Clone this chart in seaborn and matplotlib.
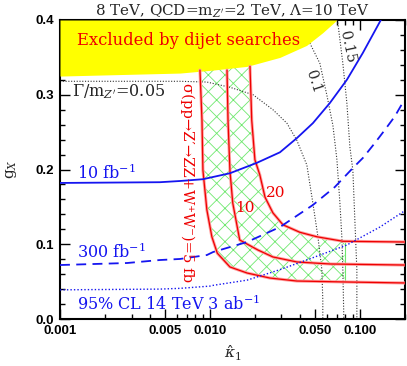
import matplotlib
matplotlib.use("Agg")
import matplotlib.pyplot as plt
import numpy as np
import seaborn as sns

# ---- data ----
# lower edge of the dijet-excluded (yellow) region
dijet_x = [0.001, 0.00631, 0.0105, 0.0177, 0.0293, 0.0441, 0.0565, 0.0703, 0.2]
dijet_y = [0.325, 0.329, 0.333, 0.338, 0.350, 0.366, 0.383, 0.40, 0.40]

# Gamma/m_Z' contours (dotted black)
w05_x = [0.001, 0.00631, 0.00954, 0.0136, 0.0194, 0.0263, 0.0326, 0.038, 0.0443,
         0.0486, 0.0525, 0.0558, 0.0566, 0.0566]
w05_y = [0.318, 0.318, 0.317, 0.310, 0.300, 0.280, 0.262, 0.239, 0.206,
         0.155, 0.110, 0.0656, 0.025, 0.0]
w10_x = [0.040, 0.0464, 0.0541, 0.0603, 0.0661, 0.0703, 0.0736, 0.0758, 0.077, 0.0782]
w10_y = [0.40, 0.369, 0.342, 0.299, 0.259, 0.213, 0.155, 0.110, 0.0656, 0.0]
w15_x = [0.0703, 0.0713, 0.077, 0.0819, 0.0858, 0.0898, 0.0926, 0.0955, 0.0955]
w15_y = [0.40, 0.396, 0.342, 0.289, 0.230, 0.199, 0.132, 0.0656, 0.0]

# 14 TeV reach (blue)
l10_x = [0.001, 0.00464, 0.00631, 0.00898, 0.0136, 0.0206, 0.0293, 0.038, 0.0486,
         0.0631, 0.0819, 0.1047, 0.138]
l10_y = [0.182, 0.183, 0.1846, 0.187, 0.195, 0.209, 0.223, 0.242, 0.262,
         0.289, 0.320, 0.356, 0.40]
l300_x = [0.001, 0.0028, 0.00464, 0.00631, 0.00955, 0.0105, 0.0177, 0.0293, 0.0486,
          0.0681, 0.0898, 0.1047, 0.126, 0.1468, 0.171, 0.1934, 0.2]
l300_y = [0.0722, 0.0749, 0.0789, 0.0803, 0.0856, 0.0896, 0.103, 0.123, 0.1525,
          0.1766, 0.202, 0.2154, 0.2355, 0.253, 0.271, 0.2896, 0.293]
l3ab_x = [0.001, 0.00464, 0.00631, 0.010, 0.0105, 0.0177, 0.0293, 0.0486, 0.0819,
          0.136, 0.193, 0.2]
l3ab_y = [0.039, 0.040, 0.041, 0.044, 0.045, 0.052, 0.066, 0.082, 0.099,
          0.123, 0.143, 0.145]

# sigma(pp -> Z' -> ZZ + WW) contours (red)
s5_x = [0.00858, 0.00885, 0.00898, 0.00954, 0.0103, 0.0112, 0.0136, 0.0177, 0.0251,
        0.038, 0.0819, 0.2]
s5_y = [0.333, 0.266, 0.199, 0.146, 0.110, 0.088, 0.0696, 0.0615, 0.0548,
        0.0508, 0.0495, 0.0482]
s10_x = [0.013, 0.0132, 0.0136, 0.0142, 0.0158, 0.0209, 0.0263, 0.038, 0.0631, 0.2]
s10_y = [0.333, 0.266, 0.198, 0.155, 0.1057, 0.0923, 0.083, 0.0763, 0.0736, 0.0722]
s20_x = [0.0185, 0.019, 0.01995, 0.0215, 0.0233, 0.0263, 0.0307, 0.0398, 0.0517,
         0.077, 0.2]
s20_y = [0.338, 0.266, 0.213, 0.193, 0.163, 0.142, 0.126, 0.116, 0.110,
         0.104, 0.103]
band_xmax = 0.079

xticks = [0.001, 0.005, 0.010, 0.050, 0.100]
xticklabels = ["0.001", "0.005", "0.010", "0.050", "0.100"]
yticks = [0.0, 0.1, 0.2, 0.3, 0.4]

sns.set_theme(style="ticks")
plt.rcParams["font.family"] = ["DejaVu Serif"]
plt.rcParams["mathtext.fontset"] = "dejavuserif"
plt.rcParams["hatch.linewidth"] = 0.6
plt.rcParams["hatch.color"] = "#6ee86e"

fig = plt.figure(figsize=(4.07, 3.66), dpi=100)
ax = fig.add_axes([60 / 407, 47 / 366, 345 / 407, 299 / 366])
ax.set_xscale("log")
ax.set_xlim(0.001, 0.2)
ax.set_ylim(0.0, 0.4)

# green hatched band between the 5 fb and 20 fb contours
def cut(xs, ys, xmax):
    px, py = [], []
    for i in range(len(xs)):
        if xs[i] <= xmax:
            px.append(xs[i]); py.append(ys[i])
        else:
            t = (np.log(xmax) - np.log(xs[i - 1])) / (np.log(xs[i]) - np.log(xs[i - 1]))
            px.append(xmax); py.append(ys[i - 1] + t * (ys[i] - ys[i - 1]))
            break
    return px, py

b5x, b5y = cut(s5_x, s5_y, band_xmax)
b20x, b20y = cut(s20_x, s20_y, band_xmax)
ax.fill(b5x + b20x[::-1], b5y + b20y[::-1], facecolor="none", edgecolor="#6ee86e",
        hatch="xx", linewidth=0, zorder=1)
ax.plot([band_xmax, band_xmax], [b5y[-1], b20y[-1]], color="#6ee86e", lw=0.8, zorder=1)

# width contours
for wx, wy in [(w05_x, w05_y), (w10_x, w10_y), (w15_x, w15_y)]:
    sns.lineplot(x=wx, y=wy, ax=ax, sort=False, estimator=None, color="#333333",
                 linestyle=(0, (1, 1.5)), linewidth=0.8, zorder=2)

# dijet exclusion
ax.fill_between(dijet_x, dijet_y, 0.4, color="#ffff00", linewidth=0, zorder=3)

# cross-section contours
for sx, sy in [(s5_x, s5_y), (s10_x, s10_y), (s20_x, s20_y)]:
    sns.lineplot(x=sx, y=sy, ax=ax, sort=False, estimator=None, color="#ffa0a0",
                 linewidth=2.2, zorder=4)
    sns.lineplot(x=sx, y=sy, ax=ax, sort=False, estimator=None, color="#ee0000",
                 linewidth=0.9, zorder=5)

# luminosity reach
blue = "#1515f0"
sns.lineplot(x=l10_x, y=l10_y, ax=ax, sort=False, estimator=None, color=blue,
             linewidth=1.3, zorder=6)
sns.lineplot(x=l300_x, y=l300_y, ax=ax, sort=False, estimator=None, color=blue,
             linewidth=1.3, linestyle=(0, (5.5, 3.5)), zorder=6)
sns.lineplot(x=l3ab_x, y=l3ab_y, ax=ax, sort=False, estimator=None, color=blue,
             linewidth=1.0, linestyle=(0, (1, 1.5)), zorder=6)

# texts
ax.text(0.0013, 0.3665, "Excluded by dijet searches", color="#ee0000", fontsize=11.8,
        va="baseline", zorder=7)
ax.text(0.0012, 0.298, r"$\Gamma$/m$_{Z'}$=0.05", fontsize=11.5, va="baseline", zorder=7)
ax.text(0.0486, 0.318, "0.1", fontsize=10.5, rotation=-72, ha="center", va="center", zorder=7)
ax.text(0.0819, 0.364, "0.15", fontsize=10.5, rotation=-78, ha="center", va="center", zorder=7)
ax.text(0.0013, 0.187, r"10 fb$^{-1}$", color=blue, fontsize=11.5, va="baseline", zorder=7)
ax.text(0.0013, 0.081, r"300 fb$^{-1}$", color=blue, fontsize=11.5, va="baseline", zorder=7)
ax.text(0.0013, 0.012, r"95% CL 14 TeV 3 ab$^{-1}$", color=blue, fontsize=11.5,
        va="baseline", zorder=7)
ax.text(0.0071, 0.182, "σ(pp→Z′→ZZ+W⁺W⁻)=5 fb", color="#ee0000", fontsize=10.6,
        rotation=-90, ha="center", va="center", zorder=7)
ax.text(0.0171, 0.1485, "10", color="#ee0000", fontsize=11, ha="center", va="center", zorder=7)
ax.text(0.0275, 0.1686, "20", color="#ee0000", fontsize=11, ha="center", va="center", zorder=7)

ax.set_title(r"8 TeV, QCD=m$_{Z'}$=2 TeV, $\Lambda$=10 TeV", fontsize=10.9, pad=3)
ax.set_xlabel(r"$\hat{\kappa}_1$", fontsize=11, labelpad=5)
ax.set_ylabel(r"g$_X$", fontsize=11, labelpad=12)

ax.set_xticks(xticks)
ax.set_xticklabels(xticklabels)
ax.set_yticks(yticks)
ax.set_yticklabels([f"{v:.1f}" for v in yticks])
ax.yaxis.set_minor_locator(matplotlib.ticker.MultipleLocator(0.02))
ax.xaxis.set_minor_locator(matplotlib.ticker.LogLocator(base=10, subs=np.arange(2, 10)))
ax.xaxis.set_minor_formatter(matplotlib.ticker.NullFormatter())
ax.tick_params(which="both", direction="in", top=True, right=True, width=1.0, colors="black")
ax.tick_params(which="major", length=7, pad=4)
ax.tick_params(which="minor", length=3.5)
for lab in ax.get_xticklabels() + ax.get_yticklabels():
    lab.set_fontfamily("Liberation Sans")
    lab.set_fontweight("bold")
    lab.set_fontsize(9.5)
for sp in ax.spines.values():
    sp.set_linewidth(1.5)
    sp.set_color("black")

fig.savefig("out.png", dpi=100)
